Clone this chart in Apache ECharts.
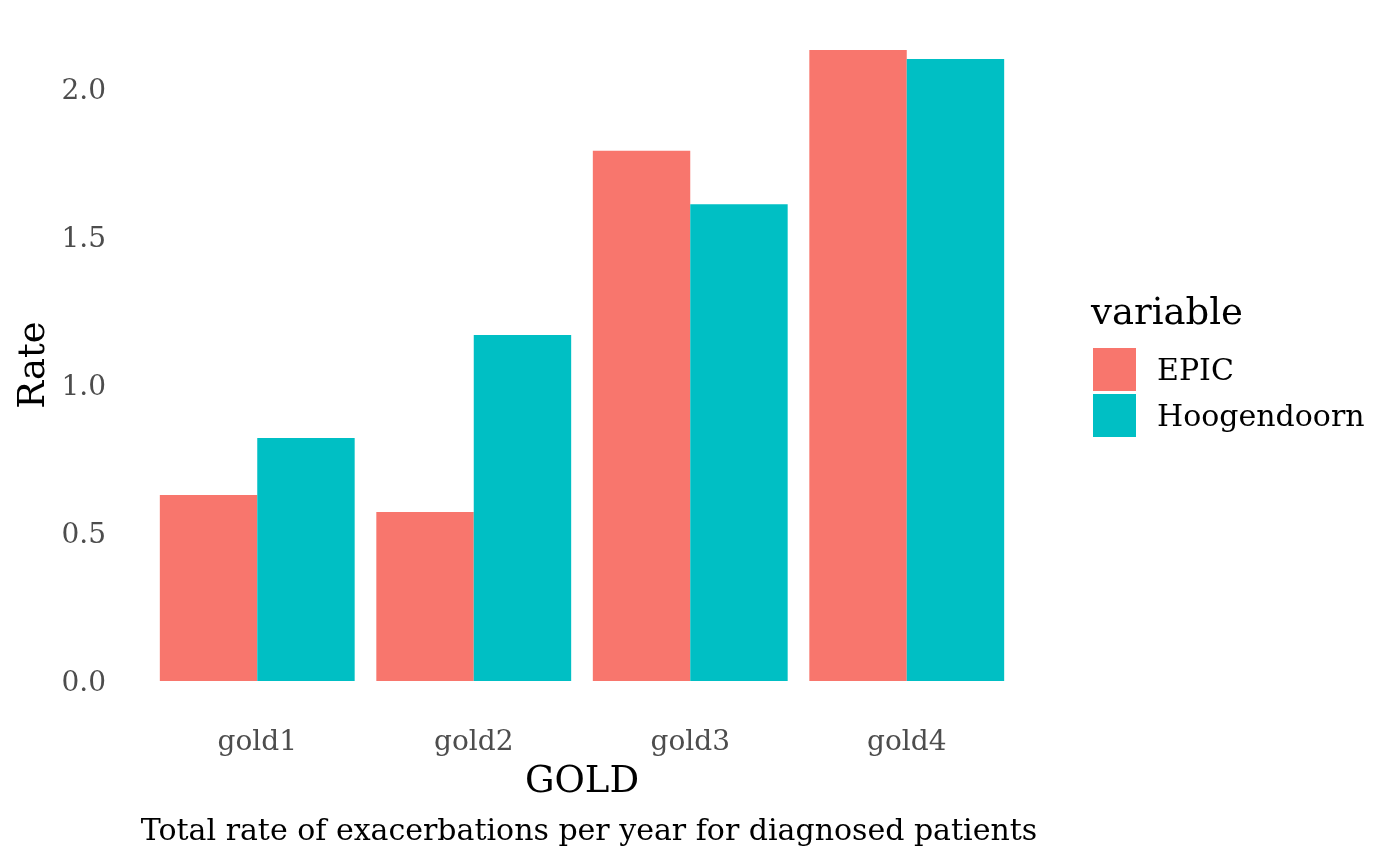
<!DOCTYPE html>
<html>
<head>
<meta charset="utf-8">
<script src="https://cdn.jsdelivr.net/npm/echarts@6/dist/echarts.min.js"></script>
<style>
  html, body { margin: 0; padding: 0; background: #ffffff; }
  #chart { width: 1400px; height: 865px; }
</style>
</head>
<body>
<div id="chart"></div>
<script>
const categories = ['gold1', 'gold2', 'gold3', 'gold4'];
const epicValues = [0.628, 0.571, 1.791, 2.132];
const hoogendoornValues = [0.821, 1.169, 1.611, 2.101];
const seriesNames = ['EPIC', 'Hoogendoorn'];
const seriesColors = ['#F8766D', '#00BFC4'];
const yTicks = [0, 0.5, 1.0, 1.5, 2.0];

const FONT = 'DejaVu Serif';
const chart = echarts.init(document.getElementById('chart'), null, { renderer: 'canvas' });

const option = {
  backgroundColor: '#ffffff',
  animation: false,
  grid: { left: 149, right: 385, top: 15, bottom: 184, containLabel: false },
  xAxis: {
    type: 'category',
    data: categories,
    axisLine: { show: false },
    axisTick: { show: false },
    splitLine: { show: false },
    axisLabel: { color: '#4D4D4D', fontFamily: FONT, fontSize: 28, margin: 48 }
  },
  yAxis: {
    type: 'value',
    min: 0,
    max: 2.25,
    interval: 0.5,
    axisLine: { show: false },
    axisTick: { show: false },
    splitLine: { show: false },
    axisLabel: {
      color: '#4D4D4D', fontFamily: FONT, fontSize: 28, margin: 43,
      formatter: function (v) {
        return yTicks.some(t => Math.abs(t - v) < 1e-9) ? '{t|' + v.toFixed(1) + '}' : '';
      },
      rich: {
        t: { color: '#4D4D4D', fontFamily: FONT, fontSize: 28, padding: [6, 0, 0, 0] }
      }
    }
  },
  legend: {
    orient: 'vertical',
    left: 1093,
    top: 348,
    padding: 0,
    itemWidth: 43,
    itemHeight: 43,
    itemGap: 3,
    icon: 'rect',
    data: seriesNames,
    formatter: function (name) { return '{n|' + name + '}'; },
    textStyle: {
      color: '#000000', fontFamily: FONT, fontSize: 30,
      rich: { n: { color: '#000000', fontFamily: FONT, fontSize: 30, padding: [6, 0, 0, 16] } }
    }
  },
  series: [
    {
      name: seriesNames[0], type: 'bar', data: epicValues,
      itemStyle: { color: seriesColors[0] },
      barGap: '0%', barCategoryGap: '10%'
    },
    {
      name: seriesNames[1], type: 'bar', data: hoogendoornValues,
      itemStyle: { color: seriesColors[1] },
      barGap: '0%', barCategoryGap: '10%'
    }
  ],
  graphic: [
    {
      type: 'text', left: 1091, top: 296,
      style: { text: 'variable', fill: '#000000', font: '37px "DejaVu Serif"' }
    },
    {
      type: 'text', x: 582, y: 782,
      style: { text: 'GOLD', fill: '#000000', font: '37px "DejaVu Serif"', align: 'center', verticalAlign: 'middle' }
    },
    {
      type: 'text', x: 34, y: 365, rotation: Math.PI / 2,
      style: { text: 'Rate', fill: '#000000', font: '37px "DejaVu Serif"', align: 'center', verticalAlign: 'middle' }
    },
    {
      type: 'text', x: 589, y: 832,
      style: { text: 'Total rate of exacerbations per year for diagnosed patients', fill: '#000000', font: '30px "DejaVu Serif"', align: 'center', verticalAlign: 'middle' }
    }
  ]
};
chart.setOption(option);
</script>
</body>
</html>
